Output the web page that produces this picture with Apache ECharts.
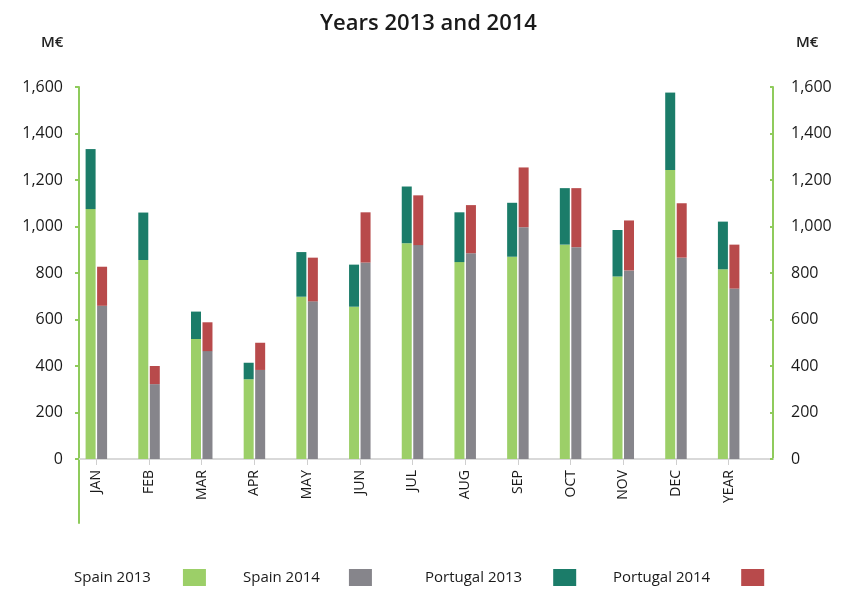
<!DOCTYPE html>
<html>
<head>
<meta charset="utf-8">
<script src="https://cdn.jsdelivr.net/npm/echarts@6/dist/echarts.min.js"></script>
<style>
  html, body { margin: 0; padding: 0; background: #fff; }
  #chart { width: 857px; height: 590px; }
</style>
</head>
<body>
<div id="chart"></div>
<script>
const months = ['JAN', 'FEB', 'MAR', 'APR', 'MAY', 'JUN', 'JUL', 'AUG', 'SEP', 'OCT', 'NOV', 'DEC', 'YEAR']
const spain2013 = [1075, 856, 516, 343, 698, 655, 928, 847, 870, 922, 785, 1243, 816]
const portugal2013 = [258, 204, 118, 71, 192, 181, 244, 214, 232, 243, 200, 333, 205]
const spain2014 = [659, 322, 464, 383, 678, 845, 920, 885, 997, 911, 811, 866, 733]
const portugal2014 = [168, 78, 124, 117, 188, 216, 214, 207, 257, 254, 215, 234, 189]

const font = 'Open Sans'
const green = '#9ccf68'
const grey = '#86858b'
const teal = '#1b7c69'
const red = '#b84a4b'
const axisGreen = '#8fcb5c'

const chart = echarts.init(document.getElementById('chart'))

function legendItem(name, left, gap) {
  return {
    data: [name],
    left: left,
    top: 569,
    padding: 0,
    align: 'right',
    icon: 'rect',
    itemWidth: 23,
    itemHeight: 17,
    selectedMode: false,
    textStyle: { fontFamily: font, fontSize: 15, fontWeight: 500, color: '#1a1a1a', padding: [0, gap, 0, 0] }
  }
}

chart.setOption({
  animation: false,
  title: [
    {
      text: 'Years 2013 and 2014',
      left: 'center',
      top: 8,
      textStyle: { fontFamily: font, fontSize: 22, fontWeight: 600, color: '#1a1a1a' }
    },
    { text: 'M€', left: 36, top: 30, textStyle: { fontFamily: font, fontSize: 15, fontWeight: 600, color: '#222' } },
    { text: 'M€', left: 791, top: 30, textStyle: { fontFamily: font, fontSize: 15, fontWeight: 600, color: '#222' } }
  ],
  legend: [
    legendItem('Spain 2013', 74, 27),
    legendItem('Spain 2014', 243, 24),
    legendItem('Portugal 2013', 425, 26),
    legendItem('Portugal 2014', 613, 26)
  ],
  grid: [
    { left: 70, width: 685, top: 87, height: 372 },
    { left: 79, width: 694, top: 87, height: 372 },
    { left: 79, width: 1, top: 459, height: 64 }
  ],
  xAxis: [
    {
      type: 'category',
      gridIndex: 0,
      data: months,
      axisLine: { show: false },
      axisTick: { show: true, alignWithLabel: true, length: 6, lineStyle: { color: '#cfcfcf' } },
      axisLabel: { rotate: 90, margin: 11, fontFamily: font, fontSize: 14, fontWeight: 500, color: '#1a1a1a' }
    },
    {
      type: 'value',
      gridIndex: 1,
      min: 0,
      max: 1,
      axisLine: { show: true, lineStyle: { color: '#d9d9d9', width: 2 } },
      axisTick: { show: false },
      axisLabel: { show: false },
      splitLine: { show: false }
    },
    {
      type: 'value',
      gridIndex: 2,
      min: 0,
      max: 1,
      axisLine: { show: false },
      axisTick: { show: false },
      axisLabel: { show: false },
      splitLine: { show: false }
    }
  ],
  yAxis: [
    {
      type: 'value',
      gridIndex: 0,
      min: 0,
      max: 1600,
      show: false
    },
    {
      type: 'value',
      gridIndex: 1,
      position: 'left',
      min: 0,
      max: 1600,
      interval: 200,
      axisLine: { show: true, lineStyle: { color: axisGreen, width: 2 } },
      axisTick: { show: true, length: 4, lineStyle: { color: axisGreen, width: 2 } },
      axisLabel: {
        margin: 16,
        fontFamily: font,
        fontSize: 16,
        fontWeight: 500,
        color: '#1a1a1a',
        formatter: v => v.toLocaleString('en-US')
      },
      splitLine: { show: false }
    },
    {
      type: 'value',
      gridIndex: 1,
      position: 'right',
      min: 0,
      max: 1600,
      interval: 200,
      axisLine: { show: true, lineStyle: { color: axisGreen, width: 2 } },
      axisTick: { show: true, inside: true, length: 3, lineStyle: { color: axisGreen, width: 2 } },
      axisLabel: {
        margin: 18,
        fontFamily: font,
        fontSize: 16,
        fontWeight: 500,
        color: '#1a1a1a',
        formatter: v => v.toLocaleString('en-US')
      },
      splitLine: { show: false }
    },
    {
      type: 'value',
      gridIndex: 2,
      position: 'left',
      min: 0,
      max: 1,
      axisLine: { show: true, onZero: false, lineStyle: { color: axisGreen, width: 2 } },
      axisTick: { show: false },
      axisLabel: { show: false },
      splitLine: { show: false }
    }
  ],
  series: [
    {
      name: 'Spain 2013', type: 'bar', stack: 'y2013', data: spain2013,
      barWidth: 10, barGap: '15%', itemStyle: { color: green }
    },
    {
      name: 'Spain 2014', type: 'bar', stack: 'y2014', data: spain2014,
      barWidth: 10, barGap: '15%', itemStyle: { color: grey }
    },
    {
      name: 'Portugal 2013', type: 'bar', stack: 'y2013', data: portugal2013,
      barWidth: 10, barGap: '15%', itemStyle: { color: teal }
    },
    {
      name: 'Portugal 2014', type: 'bar', stack: 'y2014', data: portugal2014,
      barWidth: 10, barGap: '15%', itemStyle: { color: red }
    }
  ]
})
</script>
</body>
</html>
